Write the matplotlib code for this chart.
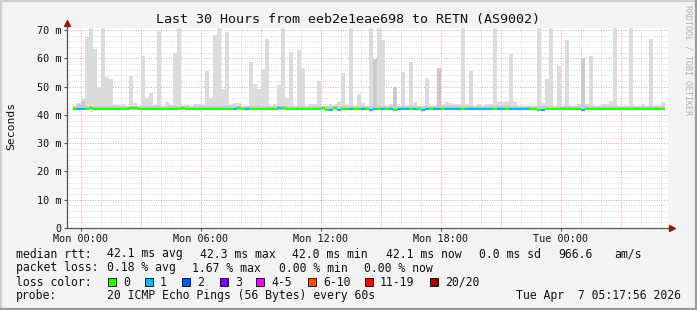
import matplotlib
matplotlib.use("Agg")
import matplotlib.pyplot as plt
from matplotlib.patches import Rectangle
from matplotlib.lines import Line2D
import numpy as np

W, H = 697, 310
MONO = "DejaVu Sans Mono"

# one column = 12 minutes, first column starts a bit before Mon 00:00
col_start_hour = -0.415
col_hours = 0.2

# highest ping of each column (ms)
smoke_top = [
    43.2, 44.1, 45.8, 67.5, 71.0, 63.2, 50.0, 71.0, 53.5, 52.6,
    43.5, 43.5, 44.0, 43.2, 53.6, 44.3, 43.0, 61.0, 46.1, 47.6,
    43.5, 69.6, 43.0, 44.6, 43.5, 61.8, 71.0, 43.5, 43.5, 43.0,
    44.0, 44.0, 43.5, 55.5, 46.0, 68.1, 71.0, 49.0, 69.3, 43.5,
    44.3, 44.3, 43.0, 43.2, 58.7, 50.8, 49.3, 56.1, 66.7, 43.2,
    44.0, 50.5, 71.0, 46.0, 62.2, 43.2, 63.0, 56.7, 43.2, 44.0,
    44.0, 52.0, 43.0, 43.2, 44.0, 43.2, 44.7, 54.7, 43.5, 71.0,
    43.2, 47.3, 44.3, 43.2, 71.0, 59.9, 71.0, 66.4, 43.2, 44.0,
    50.0, 43.2, 55.2, 43.2, 58.7, 44.5, 43.2, 43.2, 53.0, 43.2,
    43.2, 56.6, 44.0, 44.7, 44.3, 44.0, 44.0, 71.0, 44.0, 55.5,
    43.2, 44.0, 43.2, 44.0, 44.0, 71.0, 44.5, 44.7, 45.0, 61.5,
    44.5, 43.2, 43.2, 43.2, 43.0, 43.0, 71.0, 44.3, 52.8, 71.0,
    43.2, 57.3, 43.2, 66.5, 43.2, 43.2, 44.0, 60.1, 44.0, 60.8,
    43.2, 43.2, 44.0, 44.0, 45.0, 71.0, 43.2, 43.2, 43.2, 71.0,
    43.2, 43.2, 44.0, 43.2, 66.7, 43.2, 43.2, 44.5,
]

# upper edge of the dense (darker) smoke
smoke_dense = [
    43.3, 44.0, 45.0, 43.3, 43.3, 43.3, 43.3, 43.3, 43.3, 43.3,
    43.3, 43.3, 43.3, 43.3, 43.3, 43.3, 43.3, 43.3, 43.3, 43.3,
    43.3, 43.3, 43.3, 43.3, 43.3, 43.3, 43.3, 43.3, 43.3, 43.3,
    43.3, 43.3, 43.3, 43.3, 43.3, 43.3, 43.3, 43.3, 43.3, 43.3,
    43.3, 43.3, 43.3, 43.3, 43.3, 43.3, 43.3, 43.3, 43.3, 43.3,
    43.3, 43.3, 43.3, 43.3, 43.3, 43.3, 43.3, 43.3, 43.3, 43.3,
    43.3, 43.3, 43.3, 43.3, 43.3, 43.3, 43.3, 43.3, 43.3, 43.3,
    43.3, 43.3, 43.3, 43.3, 43.3, 59.9, 43.3, 43.3, 43.3, 43.3,
    50.0, 43.3, 43.3, 43.3, 43.3, 43.3, 43.3, 43.3, 43.3, 43.3,
    43.3, 56.6, 43.3, 43.3, 43.3, 43.3, 43.3, 43.3, 43.3, 43.3,
    43.3, 43.3, 43.3, 43.3, 43.3, 43.3, 43.3, 43.3, 43.3, 43.3,
    43.3, 43.3, 43.3, 43.3, 43.3, 43.3, 43.3, 43.3, 43.3, 43.3,
    43.3, 43.3, 43.3, 43.3, 43.3, 43.3, 43.3, 60.1, 43.3, 43.3,
    43.3, 43.3, 43.3, 43.3, 43.3, 43.3, 43.3, 43.3, 43.3, 43.3,
    43.3, 43.3, 43.3, 43.3, 43.3, 43.3, 43.3, 43.3,
]
smoke_floor = 41.8

median_ms = [
    42.1, 42.1, 42.1, 42.1, 42.35, 42.1, 42.1, 42.1, 42.1, 42.1,
    42.1, 42.1, 42.1, 42.1, 42.35, 42.35, 42.1, 42.1, 42.1, 42.1,
    42.1, 42.1, 42.1, 42.1, 42.1, 42.1, 42.1, 42.35, 42.1, 42.1,
    42.1, 42.1, 42.1, 42.1, 42.1, 42.1, 42.1, 42.1, 42.1, 42.1,
    42.1, 42.35, 42.1, 42.1, 42.1, 42.1, 42.1, 42.1, 42.1, 42.1,
    42.1, 42.35, 42.35, 42.1, 42.1, 42.1, 42.1, 42.1, 42.1, 42.1,
    42.1, 42.1, 42.35, 41.9, 41.9, 42.35, 41.9, 42.1, 42.1, 42.1,
    42.1, 42.1, 42.1, 42.1, 41.9, 42.1, 42.1, 42.1, 42.1, 42.1,
    41.9, 42.1, 42.1, 42.1, 42.1, 42.1, 42.1, 41.9, 42.1, 42.1,
    42.1, 42.1, 42.1, 42.1, 42.1, 42.1, 42.1, 42.1, 42.1, 42.1,
    42.1, 42.1, 42.1, 42.1, 42.1, 42.1, 42.1, 42.1, 42.1, 42.1,
    42.1, 42.1, 42.1, 42.1, 42.1, 42.1, 41.9, 41.8, 42.0, 42.0,
    42.0, 42.0, 42.0, 42.0, 42.0, 42.0, 42.0, 41.8, 42.0, 42.0,
    42.0, 42.0, 42.0, 42.0, 42.0, 42.0, 42.0, 42.0, 42.0, 42.0,
    42.0, 42.0, 42.0, 42.0, 42.0, 42.0, 42.0, 42.0,
]

# lost pings per column (0 -> green, 1 -> light blue)
loss_count = [
    0, 1, 1, 0, 0, 0, 0, 0, 0, 0,
    0, 0, 0, 0, 0, 0, 0, 0, 0, 0,
    0, 0, 0, 0, 0, 0, 0, 0, 0, 0,
    0, 0, 0, 0, 0, 0, 0, 0, 0, 0,
    1, 0, 0, 1, 0, 0, 0, 0, 0, 0,
    0, 1, 0, 0, 0, 0, 0, 0, 0, 0,
    0, 0, 0, 0, 1, 0, 1, 0, 0, 1,
    0, 0, 1, 0, 1, 1, 0, 1, 0, 1,
    0, 1, 1, 1, 0, 1, 0, 1, 1, 0,
    1, 1, 0, 1, 1, 1, 1, 0, 1, 1,
    1, 1, 1, 1, 1, 0, 1, 1, 0, 1,
    1, 1, 1, 1, 0, 0, 0, 1, 0, 0,
    0, 0, 0, 0, 0, 0, 0, 1, 0, 0,
    0, 0, 0, 0, 0, 0, 0, 0, 0, 0,
    0, 0, 0, 0, 0, 0, 0, 0,
]

loss_labels = ["0", "1", "2", "3", "4-5", "6-10", "11-19", "20/20"]
loss_colors = ["#26ff00", "#00b8ff", "#0059ff", "#7e00ff", "#ff00ff", "#ff5500", "#ff0000", "#a10000"]
loss_box_x = [108, 145, 182, 220, 256, 308, 365, 430]

x_tick_hours = [0, 6, 12, 18, 24]
x_tick_labels = ["Mon 00:00", "Mon 06:00", "Mon 12:00", "Mon 18:00", "Tue 00:00"]
y_ticks = [0, 10, 20, 30, 40, 50, 60, 70]
y_tick_labels = ["0", "10 m", "20 m", "30 m", "40 m", "50 m", "60 m", "70 m"]


def fx(px):
    return px / W


def fy(py):
    return 1 - py / H


fig = plt.figure(figsize=(W / 100, H / 100), dpi=100, facecolor="#f3f3f3")
ax = fig.add_axes([fx(67), fy(228), (668 - 67) / W, 200 / H])
ax.set_facecolor("white")
x0, x1 = -0.7, 29.35
ax.set_xlim(x0, x1)
ax.set_ylim(0, 70.75)

# grid (dotted: minor grey every hour / 2 ms, major red every 3 h / 10 ms)
dots = (0, (1, 1.6))
for h in range(0, 30):
    if h % 3:
        ax.axvline(h, color="#cdcdcd", lw=0.6, ls=dots, zorder=0)
for v in range(2, 71, 2):
    if v % 10:
        ax.axhline(v, color="#cdcdcd", lw=0.6, ls=dots, zorder=0)
for h in range(0, 30, 3):
    ax.axvline(h, color="#f2a0a0", lw=0.7, ls=dots, zorder=0.5)
for v in range(10, 71, 10):
    ax.axhline(v, color="#f2a0a0", lw=0.7, ls=dots, zorder=0.5)

cols = col_start_hour + col_hours * np.arange(len(smoke_top))
top = np.array(smoke_top)
dense = np.array(smoke_dense)
ax.bar(cols, top - smoke_floor, bottom=smoke_floor, width=col_hours, align="edge",
       color="#dcdcdc", lw=0, zorder=1)
ax.bar(cols, dense - smoke_floor, bottom=smoke_floor, width=col_hours, align="edge",
       color="#cacaca", lw=0, zorder=1.1)

seg_colors = [loss_colors[n] for n in loss_count]
ax.hlines(median_ms, cols, cols + col_hours, colors=seg_colors, lw=1.6, zorder=3)

# axes lines with arrows
for s in ["top", "right", "left", "bottom"]:
    ax.spines[s].set_visible(False)
ax.plot([x0, x0], [0, 72.5], color="#555555", lw=0.9, clip_on=False, zorder=4)
ax.plot([x0, 29.5], [0, 0], color="#555555", lw=0.9, clip_on=False, zorder=4)
ax.plot(x0, 72.6, marker="^", color="#8b1a1a", ms=4, clip_on=False, zorder=5)
ax.plot(29.55, 0, marker=">", color="#8b1a1a", ms=4, clip_on=False, zorder=5)

ax.set_xticks(x_tick_hours)
ax.set_xticklabels(x_tick_labels, fontfamily=MONO, fontsize=7.3)
ax.set_yticks(y_ticks)
ax.set_yticklabels(y_tick_labels, fontfamily=MONO, fontsize=7.3)
ax.tick_params(axis="both", length=2, width=0.8, color="#555555", pad=2, labelcolor="#111111")

fig.text(fx(348), fy(19), "Last 30 Hours from eeb2e1eae698 to RETN (AS9002)",
         ha="center", va="center", fontfamily=MONO, fontsize=9.6, color="#111111")
fig.text(fx(11), fy(126), "Seconds", rotation=90, ha="center", va="center",
         fontfamily=MONO, fontsize=8.2, color="#111111")
fig.text(fx(688), fy(5), "RRDTOOL / TOBI OETIKER", rotation=270, ha="center", va="top",
         fontfamily=MONO, fontsize=6, color="#b0b0b0")

# legend rows
lkw = dict(ha="left", va="center", fontfamily=MONO, fontsize=8.3, color="#111111")
fig.text(fx(16), fy(254), "median rtt:", **lkw)
for x, s in [(107, "42.1 ms avg"), (200, "42.3 ms max"), (292, "42.0 ms min"),
             (386, "42.1 ms now"), (479, "0.0 ms sd"), (558, "966.6"), (614, "am/s")]:
    fig.text(fx(x), fy(254), s, **lkw)
fig.text(fx(16), fy(268), "packet loss:", **lkw)
for x, s in [(107, "0.18 % avg"), (192, "1.67 % max"), (279, "0.00 % min"), (364, "0.00 % now")]:
    fig.text(fx(x), fy(268), s, **lkw)
fig.text(fx(16), fy(282), "loss color:", **lkw)
for bx, lab, c in zip(loss_box_x, loss_labels, loss_colors):
    fig.add_artist(Rectangle((fx(bx), fy(286)), 8 / W, 8 / H, transform=fig.transFigure,
                             facecolor=c, edgecolor="black", lw=0.6))
    fig.text(fx(bx + 15), fy(282), lab, **lkw)
fig.text(fx(16), fy(296), "probe:", **lkw)
fig.text(fx(107), fy(296), "20 ICMP Echo Pings (56 Bytes) every 60s", **lkw)
fig.text(fx(681), fy(296), "Tue Apr  7 05:17:56 2026", ha="right", va="center",
         fontfamily=MONO, fontsize=8.3, color="#111111")

# frame around the image
for xs, ys, c in [([0, 1], [0.997, 0.997], "#cfcfcf"), ([0.0015, 0.0015], [0, 1], "#cfcfcf"),
                  ([0, 1], [0.003, 0.003], "#9a9a9a"), ([0.9985, 0.9985], [0, 1], "#9a9a9a")]:
    fig.add_artist(Line2D(xs, ys, transform=fig.transFigure, color=c, lw=1.6))

fig.savefig("out.png", dpi=100, facecolor=fig.get_facecolor())
